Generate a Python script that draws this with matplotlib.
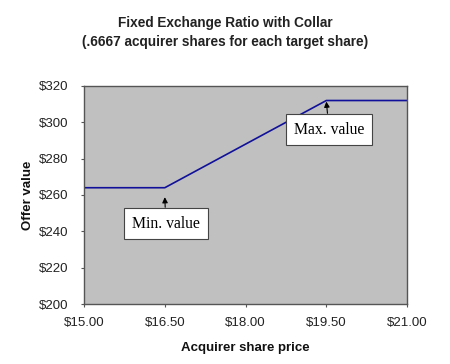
import matplotlib.pyplot as plt
from matplotlib.ticker import FuncFormatter

# Daten: Angebotswert je Aktienkurs des Käufers
share_price = [15.0, 16.5, 19.5, 21.0]
offer_value = [264, 264, 312, 312]
x_ticks = [15.0, 16.5, 18.0, 19.5, 21.0]
y_ticks = [200, 220, 240, 260, 280, 300, 320]

plt.rcParams["font.family"] = ["Liberation Sans", "DejaVu Sans"]

fig = plt.figure(figsize=(4.5, 3.64), dpi=100)
ax = fig.add_axes([0.1867, 0.1648, 0.718, 0.599])
ax.set_facecolor("#c0c0c0")

ax.plot(share_price, offer_value, color="#10109a", linewidth=1.2)

ax.set_xlim(15, 21)
ax.set_ylim(200, 320)
ax.set_xticks(x_ticks)
ax.set_yticks(y_ticks)
ax.xaxis.set_major_formatter(FuncFormatter(lambda v, p: f"${v:.2f}"))
ax.yaxis.set_major_formatter(FuncFormatter(lambda v, p: f"${v:.0f}"))
ax.tick_params(direction="out", length=2.5, labelsize=9.5, color="#555555", labelcolor="#222222")
ax.tick_params(axis="x", pad=7)
ax.tick_params(axis="y", pad=9)

for s in ax.spines.values():
    s.set_color("#555555")
    s.set_linewidth(1.0)

ax.set_xlabel("Acquirer share price", fontsize=9.5, fontweight="bold", labelpad=9.5, color="#111111")
ax.set_ylabel("Offer value", fontsize=9.5, fontweight="bold", labelpad=3.5, color="#111111")

fig.text(0.5, 0.936, "Fixed Exchange Ratio with Collar", ha="center", va="center",
         fontsize=9.8, fontweight="bold", color="#222222")
fig.text(0.5, 0.8855, "(.6667 acquirer shares for each target share)", ha="center", va="center",
         fontsize=9.8, fontweight="bold", color="#222222")

box = dict(boxstyle="square,pad=0.5", facecolor="white", edgecolor="#444444", linewidth=0.8)
arrow = dict(arrowstyle="-|>", color="black", linewidth=0.8, shrinkA=0, shrinkB=0,
             mutation_scale=8)

ax.annotate("Min. value", xy=(16.5, 258.8), xytext=(16.52, 244.3), ha="center", va="center",
            fontsize=11.3, family=["Liberation Serif"], bbox=box, arrowprops=arrow)
ax.annotate("Max. value", xy=(19.5, 311.4), xytext=(19.55, 296), ha="center", va="center",
            fontsize=11.3, family=["Liberation Serif"], bbox=box, arrowprops=arrow)

plt.savefig("out.png", dpi=100)
